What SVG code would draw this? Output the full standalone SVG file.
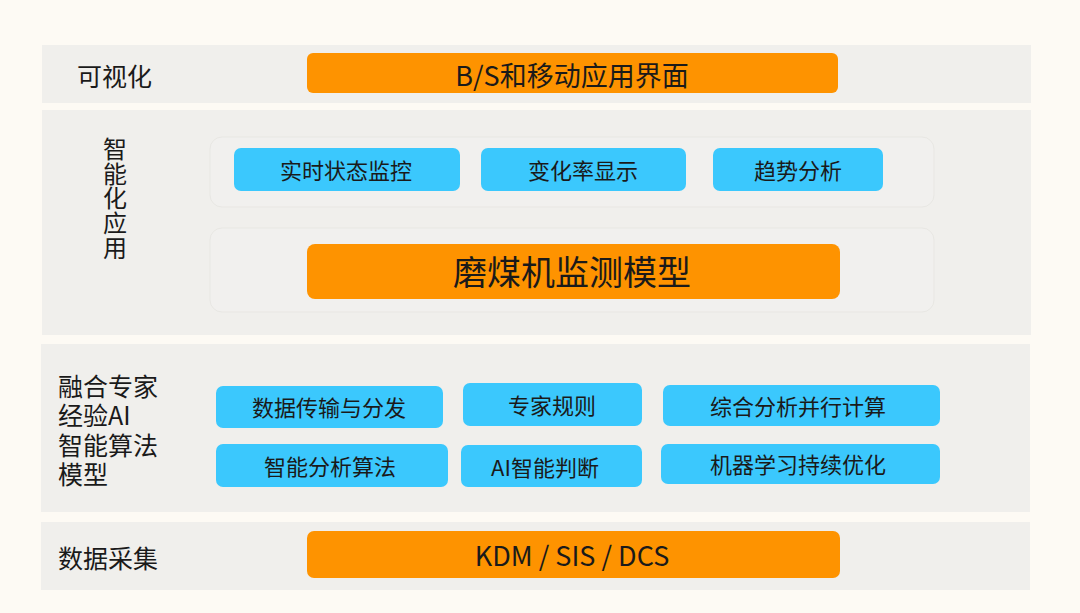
<svg xmlns="http://www.w3.org/2000/svg" width="1080" height="613" viewBox="0 0 1080 613">
<style>
text{font-family:"Noto Sans CJK SC","Noto Sans",sans-serif;fill:#1a1a1a;dominant-baseline:central}
.panel{fill:#f0efec}
.inner{fill:#f1f0ee;stroke:#e8e7e3;stroke-width:1}
.orange{fill:#fe9300}
.blue{fill:#3bc8fd}
.lbl{font-size:25px}
.bt{font-size:22px;text-anchor:middle}
.ot{font-size:27px;text-anchor:middle}
</style>
<rect width="1080" height="613" fill="#fdfaf4"/>
<g id="layer-visual">
<rect class="panel" x="42" y="45" width="989" height="58"/>
<text class="lbl" x="77" y="75">可视化</text>
</g>
<g id="node-bs">
<rect class="orange" x="307" y="53" width="531" height="40" rx="6"/>
<text class="ot" x="572" y="74">B/S和移动应用界面</text>
</g>
<g id="layer-app">
<rect class="panel" x="42" y="110" width="989" height="225"/>
<text x="115" y="137" font-size="24" letter-spacing="0.6" style="writing-mode:vertical-rl;dominant-baseline:auto">智能化应用</text>
<rect class="inner" x="210" y="137" width="724" height="70" rx="12"/>
<rect class="inner" x="210" y="228" width="724" height="84" rx="12"/>
</g>
<g id="node-realtime">
<rect class="blue" x="234" y="148" width="226" height="43" rx="7"/>
<text class="bt" x="346" y="169">实时状态监控</text>
</g>
<g id="node-rate">
<rect class="blue" x="481" y="148" width="205" height="43" rx="7"/>
<text class="bt" x="583" y="169">变化率显示</text>
</g>
<g id="node-trend">
<rect class="blue" x="713" y="148" width="170" height="43" rx="7"/>
<text class="bt" x="798" y="169">趋势分析</text>
</g>
<g id="node-model">
<rect class="orange" x="307" y="244" width="533" height="55" rx="8"/>
<text x="572" y="270" font-size="34" text-anchor="middle">磨煤机监测模型</text>
</g>
<g id="layer-ai">
<rect class="panel" x="41" y="344" width="989" height="168"/>
<text class="lbl" x="58" y="385"><tspan x="58" y="385">融合专家</tspan><tspan x="58" y="414">经验AI</tspan><tspan x="58" y="444">智能算法</tspan><tspan x="58" y="473">模型</tspan></text>
</g>
<g id="node-data-trans">
<rect class="blue" x="216" y="386" width="227" height="42" rx="7"/>
<text class="bt" x="329" y="406">数据传输与分发</text>
</g>
<g id="node-rules">
<rect class="blue" x="463" y="383" width="179" height="43" rx="7"/>
<text class="bt" x="552" y="404">专家规则</text>
</g>
<g id="node-parallel">
<rect class="blue" x="663" y="385" width="277" height="41" rx="7"/>
<text class="bt" x="798" y="405">综合分析并行计算</text>
</g>
<g id="node-algo">
<rect class="blue" x="216" y="444" width="232" height="43" rx="7"/>
<text class="bt" x="330" y="465">智能分析算法</text>
</g>
<g id="node-judge">
<rect class="blue" x="461" y="445" width="181" height="42" rx="7"/>
<text class="bt" x="545" y="466">AI智能判断</text>
</g>
<g id="node-ml">
<rect class="blue" x="661" y="444" width="279" height="40" rx="7"/>
<text class="bt" x="798" y="463">机器学习持续优化</text>
</g>
<g id="layer-data">
<rect class="panel" x="41" y="522" width="989" height="68"/>
<text class="lbl" x="58" y="557">数据采集</text>
</g>
<g id="node-kdm">
<rect class="orange" x="307" y="531" width="533" height="47" rx="7"/>
<text class="ot" x="572" y="554">KDM / SIS / DCS</text>
</g>
<g id="connectors"></g>
</svg>
